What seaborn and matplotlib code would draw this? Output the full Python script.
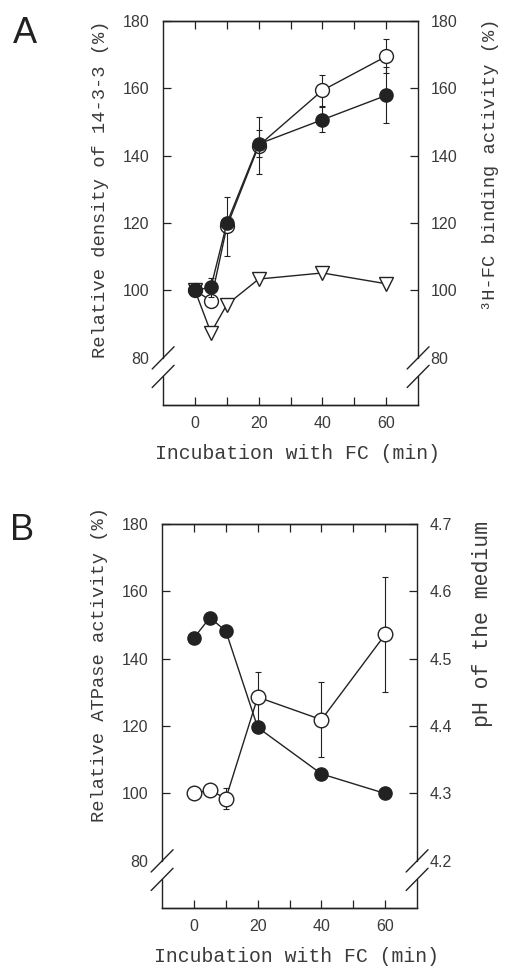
import numpy as np
import pandas as pd
import matplotlib
matplotlib.use("Agg")
import matplotlib.pyplot as plt
import seaborn as sns

# panel A: 14-3-3 density (filled), 3H-FC binding (open circles), triangles
time_a = [0, 5, 10, 20, 40, 60]
density = [100, 101, 120, 143.5, 150.7, 157.9]
density_err = [1.5, 2.8, 0, 4, 3.8, 8.3]
binding = [100, 97, 119, 143, 159.4, 169.5]
binding_err = [0, 0, 8.7, 8.5, 4.5, 5]
triangle = [100, 87.5, 95.8, 103.4, 105.2, 102]

# panel B: ATPase activity (open, left axis), pH of medium (filled, right axis)
time_b = [0, 5, 10, 20, 40, 60]
atpase = [100, 101, 98.5, 128.6, 121.9, 147.2]
atpase_err = [0, 0, 3, 7.4, 11.2, 17]
ph = [4.531, 4.561, 4.541, 4.398, 4.329, 4.30]

left_ticks = [80, 100, 120, 140, 160, 180]
ph_ticks = [4.2, 4.3, 4.4, 4.5, 4.6, 4.7]
x_major = [0, 20, 40, 60]
x_minor = [10, 30, 50]

sns.set_theme(style="ticks")
plt.rcParams["font.family"] = ["Liberation Sans", "DejaVu Sans"]

INK = "#222222"
TXT = "#3a3a3a"
YLIM = (66, 180)
MONO = ["Liberation Mono", "DejaVu Sans Mono"]


def to_ph(v):
    return 4.2 + (v - 80) * 0.005


def frame(ax, ax2, right_labels):
    ax.set_xlim(-10, 70)
    ax.set_ylim(*YLIM)
    ax.set_xticks(x_major)
    ax.set_xticks(x_minor, minor=True)
    ax.set_yticks(left_ticks)
    ax.tick_params(axis="x", which="both", direction="in", length=6, width=0.9,
                   top=True, labelsize=11.5, labelcolor=TXT, color=INK, pad=8)
    ax.tick_params(axis="y", direction="in", length=6, width=0.9,
                   labelsize=11.5, labelcolor=TXT, color=INK, pad=10)
    ax.yaxis.get_major_ticks()[0].tick1line.set_visible(False)
    ax.set_xlabel("Incubation with FC (min)", labelpad=9, family=MONO,
                  fontsize=14.2, color=TXT)
    ax.xaxis.label.set_x(0.527)

    ax2.set_yticks(right_labels[0])
    ax2.set_yticklabels(right_labels[1])
    ax2.tick_params(axis="y", direction="in", length=6, width=0.9,
                    labelsize=11.5, labelcolor=TXT, color=INK, pad=9)
    ax2.yaxis.get_major_ticks()[0].tick2line.set_visible(False)

    for a in (ax, ax2):
        for s in a.spines.values():
            s.set_color(INK)
            s.set_linewidth(1.0)
        a.spines["left"].set_visible(False)
        a.spines["right"].set_visible(False)
        a.grid(False)

    # broken y spines on both sides
    h = YLIM[1] - YLIM[0]
    y_up = (80 - YLIM[0]) / h
    y_lo = (74.5 - YLIM[0]) / h
    dx, dy = 0.043, 0.029
    for xs in (0, 1):
        ax.plot([xs, xs], [y_up, 1], transform=ax.transAxes, color=INK, lw=1.0, clip_on=False)
        ax.plot([xs, xs], [0, y_lo], transform=ax.transAxes, color=INK, lw=1.0, clip_on=False)
        for yc in (y_up, y_lo):
            ax.plot([xs - dx, xs + dx], [yc - dy, yc + dy], transform=ax.transAxes,
                    color=INK, lw=1.0, clip_on=False)


fig = plt.figure(figsize=(5.13, 9.66), dpi=100)

# ---------- panel A ----------
axA = fig.add_axes([0.318, 0.5807, 0.497, 0.3976])
axA2 = axA.twinx()
axA2.set_ylim(*YLIM)

line_kw = dict(color=INK, linewidth=1.0, markeredgecolor=INK, markeredgewidth=1.0)
sns.lineplot(x=time_a, y=triangle, ax=axA, marker="v", markersize=10.5,
             markerfacecolor="white", zorder=2, **line_kw)
axA.errorbar(time_a, binding, yerr=binding_err, fmt="none", ecolor=INK,
             elinewidth=0.8, capsize=2.5, capthick=0.8, zorder=3)
sns.lineplot(x=time_a, y=binding, ax=axA, marker="o", markersize=10,
             markerfacecolor="white", zorder=4, **line_kw)
axA.errorbar(time_a, density, yerr=density_err, fmt="none", ecolor=INK,
             elinewidth=0.8, capsize=2.5, capthick=0.8, zorder=5)
sns.lineplot(x=time_a, y=density, ax=axA, marker="o", markersize=9.5,
             markerfacecolor=INK, zorder=6, **line_kw)

frame(axA, axA2, (left_ticks, [str(t) for t in left_ticks]))
axA.set_ylabel("Relative density of 14-3-3 (%)", labelpad=10, family=MONO,
               fontsize=13.5, color=TXT)
axA.yaxis.label.set_y(0.5625)
axA2.set_ylabel("³H-FC binding activity (%)", labelpad=18, family=MONO,
                fontsize=13.5, color=TXT)
axA2.yaxis.label.set_y(0.625)

# ---------- panel B ----------
axB = fig.add_axes([0.316, 0.0600, 0.497, 0.3976])
axB2 = axB.twinx()
axB2.set_ylim(to_ph(YLIM[0]), to_ph(YLIM[1]))

sns.lineplot(x=time_b, y=ph, ax=axB2, marker="o", markersize=9.5,
             markerfacecolor=INK, **line_kw)
axB.errorbar(time_b, atpase, yerr=atpase_err, fmt="none", ecolor=INK,
             elinewidth=0.8, capsize=2.5, capthick=0.8, zorder=3)
sns.lineplot(x=time_b, y=atpase, ax=axB, marker="o", markersize=10.5,
             markerfacecolor="white", zorder=4, **line_kw)
axB.set_zorder(axB2.get_zorder() + 1)
axB.patch.set_visible(False)

frame(axB, axB2, (ph_ticks, [f"{t:.1f}" for t in ph_ticks]))
axB.set_ylabel("Relative ATPase activity (%)", labelpad=10, family=MONO,
               fontsize=13.5, color=TXT)
axB.yaxis.label.set_y(0.633)
axB2.set_ylabel("pH of the medium", labelpad=14, family=MONO,
                fontsize=15.5, color=TXT)
axB2.yaxis.label.set_y(0.74)

fig.text(0.025, 1 - 43 / 966, "A", fontsize=26, color="#222222", family="Liberation Sans")
fig.text(0.019, 1 - 540 / 966, "B", fontsize=26, color="#222222", family="Liberation Sans")

fig.savefig("out.png", dpi=100)
